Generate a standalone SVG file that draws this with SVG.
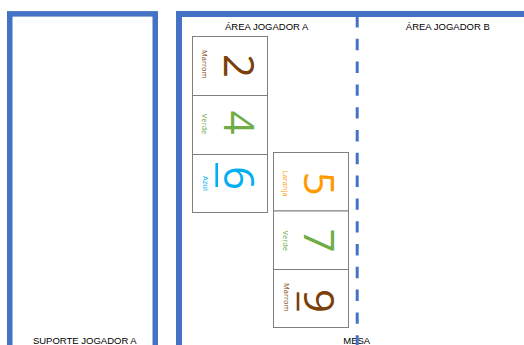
<svg xmlns="http://www.w3.org/2000/svg" width="524" height="345" viewBox="0 0 524 345">
<style>
.frame{fill:none;stroke:#4472C4}
.card{fill:#FFFFFF;stroke:#7F7F7F;stroke-width:1}
.title{font-family:"Liberation Sans",Arial,sans-serif;font-size:9.5px;fill:#000000;text-anchor:middle}
.digit{font-family:"Open Sans","Liberation Sans",sans-serif;font-size:42px;text-anchor:middle}
.lbl{font-family:"Open Sans","Liberation Sans",sans-serif;font-size:7.5px;text-anchor:middle}
.brown{fill:#7B3F0A}
.green{fill:#70AD47}
.blue{fill:#00B0F0}
.orange{fill:#FF9A00}
.ul{stroke-width:2.6}
</style>
<rect width="524" height="345" fill="#FFFFFF"/>
<g id="suporte-jogador-a">
<rect class="frame" x="9.75" y="13.85" width="145.5" height="360" stroke-width="5.5"/>
<text class="title" x="84.8" y="343.5">SUPORTE JOGADOR A</text>
</g>
<g id="mesa">
<rect class="frame" x="179" y="14" width="400" height="400" stroke-width="6"/>
<text class="title" x="266.7" y="29.5">ÁREA JOGADOR A</text>
<text class="title" x="447.8" y="29.5">ÁREA JOGADOR B</text>
<text class="title" x="356.7" y="343.5">MESA</text>
</g>
<g id="connectors">
<line x1="357.2" y1="16" x2="357.2" y2="345" stroke="#4472C4" stroke-width="3" stroke-dasharray="11.4 11.4"/>
</g>
<g id="card-2-marrom">
<rect class="card" x="192.5" y="36.5" width="75" height="59"/>
<text class="lbl brown" transform="translate(202,64.3) rotate(90)">Marrom</text>
<text class="digit brown" transform="translate(223.7,66) rotate(90)">2</text>
</g>
<g id="card-4-verde">
<rect class="card" x="192.5" y="95.5" width="75" height="59"/>
<text class="lbl green" transform="translate(202,124) rotate(90)">Verde</text>
<text class="digit green" transform="translate(223.5,122.5) rotate(90)">4</text>
</g>
<g id="card-6-azul">
<rect class="card" x="192.5" y="154.5" width="75" height="58"/>
<text class="lbl blue" transform="translate(202.5,183.4) rotate(90)">Azul</text>
<text class="digit blue" transform="translate(223.5,178) rotate(90)">6</text>
<line class="ul" x1="216.7" y1="163" x2="216.7" y2="187" stroke="#00B0F0"/>
</g>
<g id="card-5-laranja">
<rect class="card" x="273.5" y="152.5" width="75" height="58.5"/>
<text class="lbl orange" transform="translate(283,183.7) rotate(90)">Laranja</text>
<text class="digit orange" transform="translate(303.7,183.7) rotate(90)">5</text>
</g>
<g id="card-7-verde">
<rect class="card" x="273.5" y="211" width="75" height="58.5"/>
<text class="lbl green" transform="translate(283,240.8) rotate(90)">Verde</text>
<text class="digit green" transform="translate(303.5,240.5) rotate(90)">7</text>
</g>
<g id="card-9-marrom">
<rect class="card" x="273.5" y="269.5" width="75" height="58"/>
<text class="lbl brown" transform="translate(284,297.3) rotate(90)">Marrom</text>
<text class="digit brown" transform="translate(304,301) rotate(90)">9</text>
<line class="ul" x1="298" y1="292.3" x2="298" y2="310.7" stroke="#7B3F0A"/>
</g>
</svg>
